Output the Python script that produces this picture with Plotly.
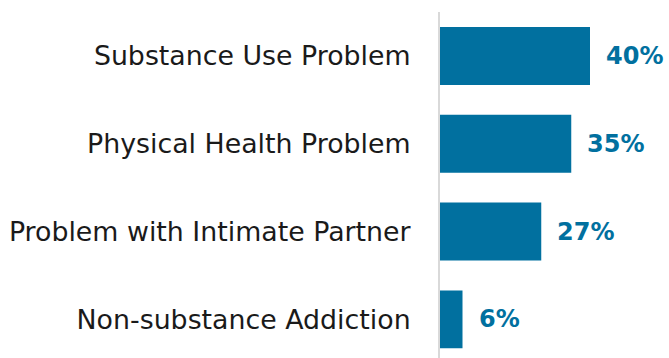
import plotly.graph_objects as go

# Share of respondents reporting each problem
categories = [
    "Substance Use Problem",
    "Physical Health Problem",
    "Problem with Intimate Partner",
    "Non-substance Addiction",
]
values = [40, 35, 27, 6]

bar_color = "#01709F"

fig = go.Figure(
    go.Bar(
        x=values,
        y=categories,
        orientation="h",
        marker=dict(color=bar_color, line=dict(width=0)),
        hoverinfo="skip",
    )
)

# Percentage labels just past the end of each bar
for cat, val in zip(categories, values):
    fig.add_annotation(
        x=val,
        y=cat,
        text=f"{val}%",
        showarrow=False,
        xanchor="left",
        yanchor="middle",
        xshift=14,
        font=dict(family="DejaVu Sans", size=24, color=bar_color, weight="bold"),
    )

fig.update_layout(
    width=669,
    height=358,
    margin=dict(l=440, r=4, t=12, b=0),
    paper_bgcolor="white",
    plot_bgcolor="white",
    bargap=0.34,
    showlegend=False,
    xaxis=dict(
        range=[0, 60],
        visible=False,
        fixedrange=True,
    ),
    yaxis=dict(
        type="category",
        categoryorder="array",
        categoryarray=categories,
        range=[3.44, -0.5],
        showline=True,
        linecolor="#D9D9D9",
        linewidth=2,
        showgrid=False,
        zeroline=False,
        ticks="",
        ticklabelstandoff=22,
        tickfont=dict(family="DejaVu Sans", size=26.8, color="#1A1A1A"),
        fixedrange=True,
    ),
)

fig.write_html("out.html")
